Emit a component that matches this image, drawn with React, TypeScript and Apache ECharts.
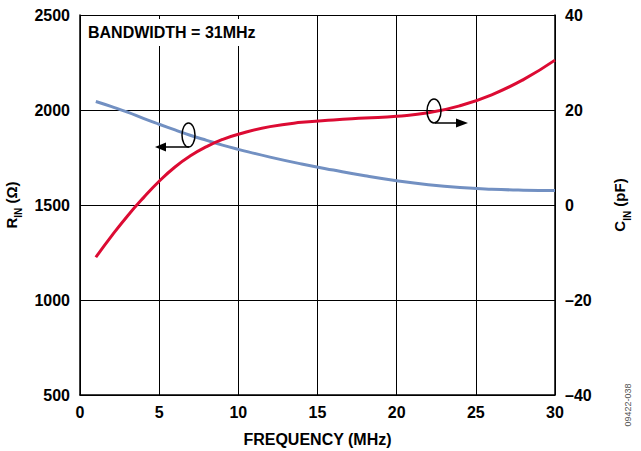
import React, { useEffect, useRef } from "react";
import * as echarts from "echarts";

const freqMHz = [1, 2, 3, 4, 5, 6, 7, 8, 9, 10, 12, 14, 16, 18, 20, 22, 24, 26, 28, 30];
const rinOhm = [2045, 2018, 1989, 1956, 1925, 1895, 1866, 1840, 1815, 1793, 1752, 1716, 1684, 1654, 1628, 1607, 1592, 1583, 1578, 1576];
const cinPF = [-11, -6.5, -2.3, 1.5, 5, 8, 10.4, 12.3, 13.8, 14.9, 16.5, 17.4, 17.9, 18.3, 18.7, 19.4, 20.9, 23.2, 26.4, 30.5];
const xTicks = [0, 5, 10, 15, 20, 25, 30];
const leftTicks = [500, 1000, 1500, 2000, 2500];
const rightTicks = [-40, -20, 0, 20, 40];

const FONT = "'Liberation Sans', Arial, Helvetica, sans-serif";
const BLUE = "#7290c2";
const RED = "#dc0b33";

export default function App() {
  const ref = useRef<HTMLDivElement>(null);
  useEffect(() => {
    if (!ref.current) return;
    const chart = echarts.init(ref.current, undefined, { renderer: "svg" });
    const labelStyle = { color: "#000", fontFamily: FONT, fontWeight: "bold" as const, fontSize: 16 };
    const richName = {
      r: { ...labelStyle, fontSize: 15, lineHeight: 20, verticalAlign: "top" },
      s: { ...labelStyle, fontSize: 10, lineHeight: 10, verticalAlign: "bottom" },
    };
    chart.setOption({
      animation: false,
      backgroundColor: "#fff",
      grid: { left: 80, right: 86, top: 15, bottom: 56, containLabel: false, outerBoundsMode: "none" },
      xAxis: {
        type: "value",
        min: xTicks[0],
        max: xTicks[xTicks.length - 1],
        interval: 5,
        name: "FREQUENCY (MHz)",
        nameLocation: "middle",
        nameGap: 36,
        nameTextStyle: { ...labelStyle },
        axisLine: { show: true, onZero: false, lineStyle: { color: "#000", width: 1.5 } },
        axisTick: { show: false },
        axisLabel: { ...labelStyle, margin: 9 },
        splitLine: { show: true, lineStyle: { color: "#000", width: 1 } },
      },
      yAxis: [
        {
          type: "value",
          position: "left",
          min: leftTicks[0],
          max: leftTicks[leftTicks.length - 1],
          interval: 500,
          name: "{r|R}{s|IN}{r| (Ω)}",
          nameLocation: "middle",
          nameRotate: 90,
          nameGap: 50,
          nameTextStyle: { rich: richName },
          axisLine: { show: true, lineStyle: { color: "#000", width: 1.5 } },
          axisTick: { show: false },
          axisLabel: { ...labelStyle, margin: 10, formatter: (v: number) => String(v) },
          splitLine: { show: true, lineStyle: { color: "#000", width: 1 } },
        },
        {
          type: "value",
          position: "right",
          min: rightTicks[0],
          max: rightTicks[rightTicks.length - 1],
          interval: 20,
          name: "{r|C}{s|IN}{r| (pF)}",
          nameLocation: "middle",
          nameRotate: 90,
          nameGap: 57,
          nameTextStyle: { rich: richName },
          axisLine: { show: true, onZero: false, lineStyle: { color: "#000", width: 1.5 } },
          axisTick: { show: false },
          axisLabel: {
            ...labelStyle,
            margin: 10,
            formatter: (v: number) => (v < 0 ? "\u2013" + Math.abs(v) : String(v)),
          },
          splitLine: { show: false },
        },
      ],
      series: [
        {
          type: "line",
          yAxisIndex: 0,
          data: freqMHz.map((f, i) => [f, rinOhm[i]]),
          smooth: true,
          showSymbol: false,
          lineStyle: { color: BLUE, width: 3 },
          z: 3,
        },
        {
          type: "line",
          yAxisIndex: 1,
          data: freqMHz.map((f, i) => [f, cinPF[i]]),
          smooth: true,
          showSymbol: false,
          lineStyle: { color: RED, width: 3 },
          z: 4,
        },
      ],
      graphic: [
        {
          type: "rect",
          shape: { x: 81, y: 19, width: 181, height: 27 },
          style: { fill: "#fff" },
          z: 9,
        },
        {
          type: "text",
          left: 88,
          top: 24,
          style: { text: "BANDWIDTH = 31MHz", fill: "#000", font: `bold 16px ${FONT}` },
          z: 10,
        },
        { type: "ellipse", shape: { cx: 188.5, cy: 135, rx: 6.5, ry: 12 }, style: { fill: "none", stroke: "#000", lineWidth: 1.5 }, z: 10 },
        { type: "line", shape: { x1: 164, y1: 147, x2: 189, y2: 147 }, style: { stroke: "#000", lineWidth: 1.5 }, z: 10 },
        { type: "polygon", shape: { points: [[155, 147], [166, 142.5], [166, 151.5]] }, style: { fill: "#000" }, z: 10 },
        { type: "ellipse", shape: { cx: 434, cy: 111, rx: 7, ry: 12 }, style: { fill: "none", stroke: "#000", lineWidth: 1.5 }, z: 10 },
        { type: "line", shape: { x1: 435, y1: 123, x2: 458, y2: 123 }, style: { stroke: "#000", lineWidth: 1.5 }, z: 10 },
        { type: "polygon", shape: { points: [[468, 123], [456, 118.5], [456, 127.5]] }, style: { fill: "#000" }, z: 10 },
        {
          type: "text",
          x: 628,
          y: 405,
          rotation: Math.PI / 2,
          style: { text: "09422-038", fill: "#555", font: `9px ${FONT}`, align: "center", verticalAlign: "middle" },
          z: 10,
        },
      ],
    });
    return () => chart.dispose();
  }, []);
  return <div ref={ref} style={{ position: "fixed", left: 0, top: 0, width: 641, height: 451 }} />;
}
